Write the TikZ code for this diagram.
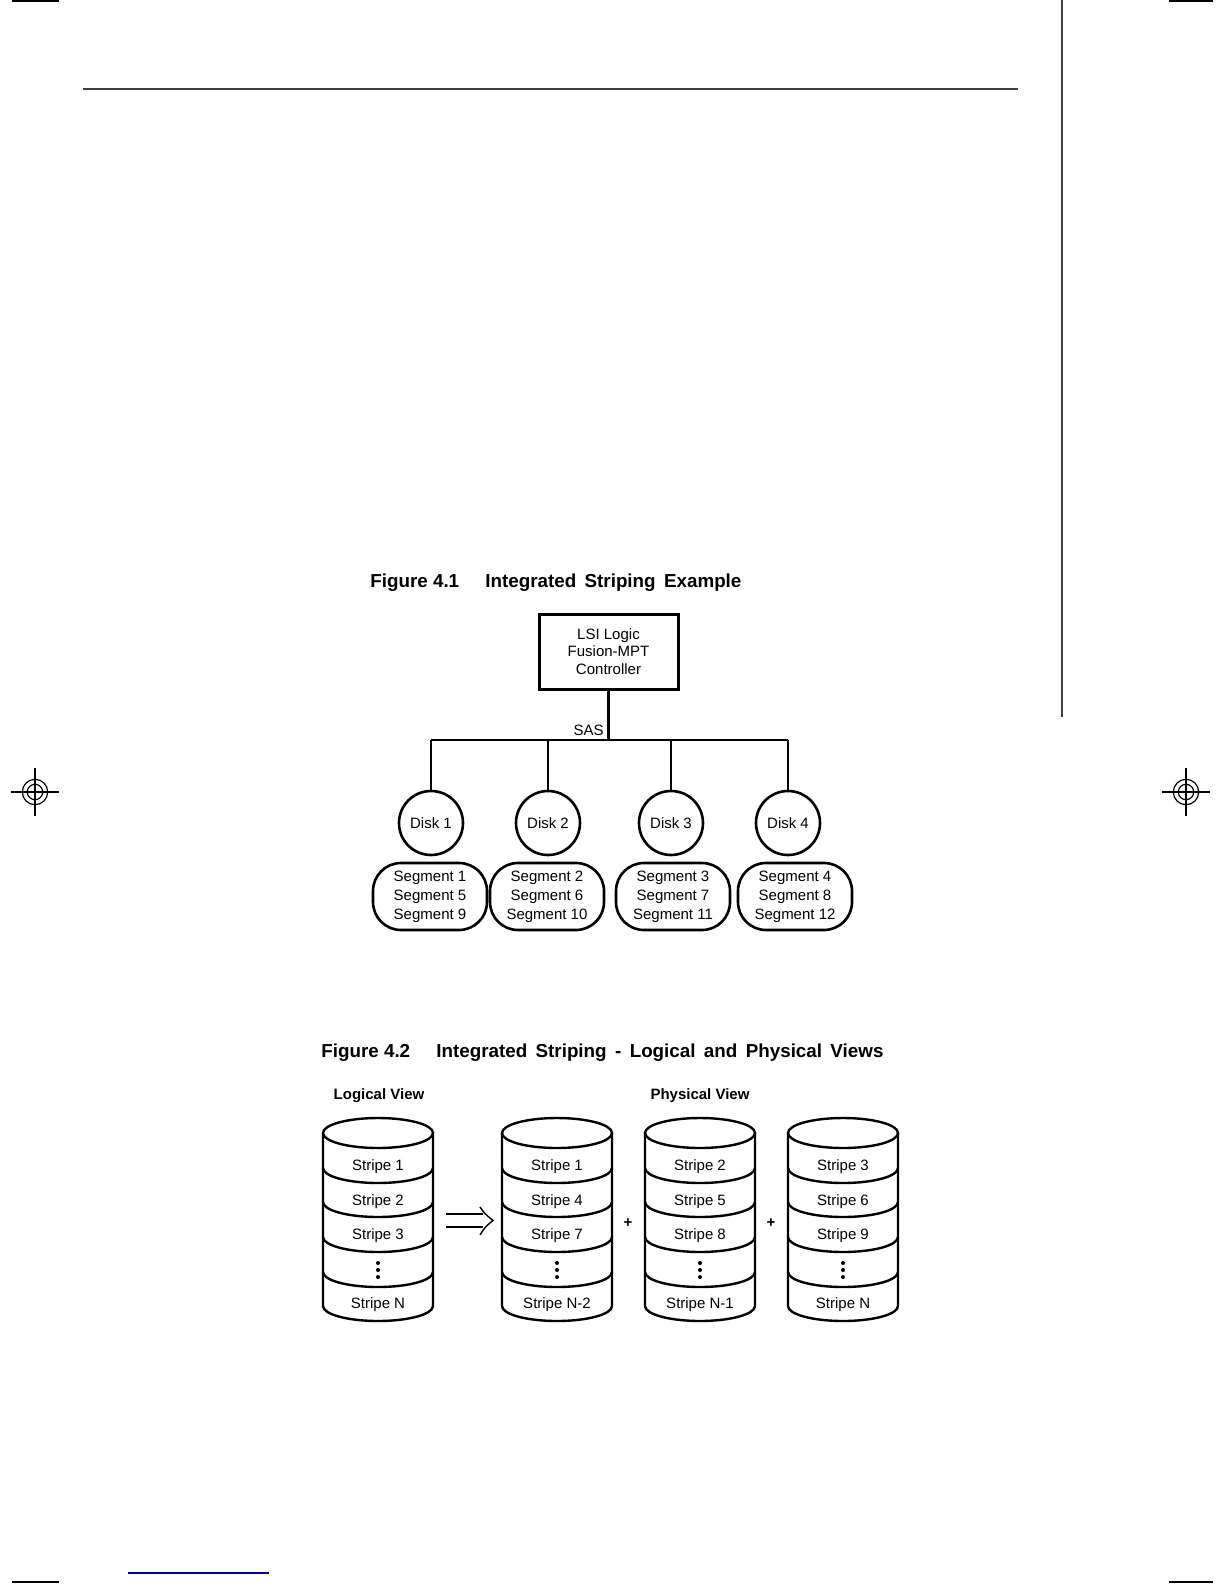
\documentclass[tikz,border=0pt]{standalone}
\usepackage{fontspec}
\setmainfont{Liberation Sans}
\usetikzlibrary{positioning}

\newcommand\ttlspace{\spaceskip=4.2pt\relax}

\tikzset{
  lbl/.style={font=\fontsize{7.5}{8.75}\selectfont,inner sep=0pt,align=center},
  seglbl/.style={font=\fontsize{7.5}{9.5}\selectfont,inner sep=0pt,align=center},
  fignum/.style={font=\fontsize{9.4}{11}\selectfont\bfseries,inner sep=0pt,anchor=base west},
  ttl/.style={font=\fontsize{9.4}{11}\selectfont\bfseries\ttlspace,inner sep=0pt,anchor=base west},
  hdr/.style={font=\fontsize{7.5}{9}\selectfont\bfseries,inner sep=0pt,anchor=base},
  ctrlbox/.style={draw,line width=1.5pt,minimum width=69.5pt,minimum height=37.5pt,lbl},
  diskbox/.style={draw,circle,line width=1.3pt,minimum size=32pt,lbl},
  segbox/.style={draw,rounded corners=14pt,line width=1.3pt,minimum width=57pt,minimum height=33.5pt,seglbl},
  cyl/.style={line width=1.2pt},
  wire/.style={line width=1.2pt}
}

\begin{document}
\begin{tikzpicture}[x=0.5pt,y=-0.5pt]
  \useasboundingbox (0,0) rectangle (1224,1584);
  % page furniture
  \draw[line width=1pt] (12,1) -- (59,1) (1169,1) -- (1213,1);
  \draw[line width=1pt] (12,1582) -- (59,1582) (1169,1582) -- (1213,1582);
  \draw[black!75,line width=0.8pt] (83,89) -- (1018,89);
  \draw[black!75,line width=0.8pt] (1062,0) -- (1062,717);
  \draw[blue!55!black,line width=1pt] (128,1573) -- (269,1573);
  \foreach \cx in {35,1186} {
    \draw[line width=0.6pt] (\cx,792) circle[radius=6.35pt] (\cx,792) circle[radius=3.85pt];
    \draw[line width=0.6pt] (\cx-24,792) -- (\cx+24,792) (\cx,768) -- (\cx,816);
  }

  % Figure 4.1
  \node[fignum] (t1a) at (370,587) {Figure 4.1};
  \node[ttl] (t1b) at (485,587) {Integrated Striping Example};
  \node[ctrlbox] (ctrl) at (608.5,651.5) {LSI Logic\\Fusion-MPT\\Controller};
  \coordinate (bus) at (608.5,740);
  \node[lbl,anchor=east] (sas) at (604,730) {SAS};
  \foreach \i/\dx/\sx/\a/\b/\c in {1/431/430/1/5/9,2/548/547/2/6/10,3/671/673/3/7/11,4/788/795/4/8/12} {
    \node[diskbox] (d\i) at (\dx,823) {Disk \i};
    \node[segbox] (s\i) at (\sx,896.5) {Segment \a\\Segment \b\\Segment \c};
    \draw[wire] (d\i.north) -- (d\i.north |- bus);
  }
  \draw[line width=1.5pt] (ctrl.south) -- (bus);
  \draw[wire] (d1.north |- bus) -- (d4.north |- bus);

  % Figure 4.2
  \node[fignum] (t2a) at (321,1057) {Figure 4.2};
  \node[ttl] (t2b) at (436,1057) {Integrated Striping - Logical and Physical Views};
  \node[hdr] (logv) at (379,1099) {Logical View};
  \node[hdr] (physv) at (700,1099) {Physical View};
  \foreach \cx/\nm/\a/\b/\c/\z in {378/lv/1/2/3/N,557/pa/1/4/7/N-2,700/pb/2/5/8/N-1,843/pc/3/6/9/N} {
    \draw[cyl] (\cx,1133) ellipse[x radius=27.5pt,y radius=7.5pt];
    \draw[cyl] (\cx-55,1133) -- (\cx-55,1306)
      arc[start angle=180,end angle=360,x radius=27.5pt,y radius=7.5pt] -- (\cx+55,1133);
    \foreach \dy in {1168,1202,1237,1272}
      \draw[cyl] (\cx-55,\dy) arc[start angle=180,end angle=360,x radius=27.5pt,y radius=7.5pt];
    \node[lbl,anchor=base] (\nm-1) at (\cx,1170.5) {Stripe \a};
    \node[lbl,anchor=base] (\nm-2) at (\cx,1205.5) {Stripe \b};
    \node[lbl,anchor=base] (\nm-3) at (\cx,1239.5) {Stripe \c};
    \node[lbl,anchor=base] (\nm-n) at (\cx,1308.5) {Stripe \z};
    \foreach \py in {1263,1270,1277}
      \fill (\cx,\py) circle[radius=1pt];
  }
  \node[hdr] (plus1) at (628,1227) {+};
  \node[hdr] (plus2) at (771,1227) {+};
  \coordinate (imp) at (446,1220.5);
  \draw[line width=0.7pt] (imp) ++(0,-6.5) -- ++(37,0) (imp) ++(0,6.5) -- ++(37,0);
  \draw[line width=0.7pt] (480,1207) .. controls (485,1214) .. (493,1220.5)
    .. controls (485,1227) .. (480,1235);
\end{tikzpicture}
\end{document}
